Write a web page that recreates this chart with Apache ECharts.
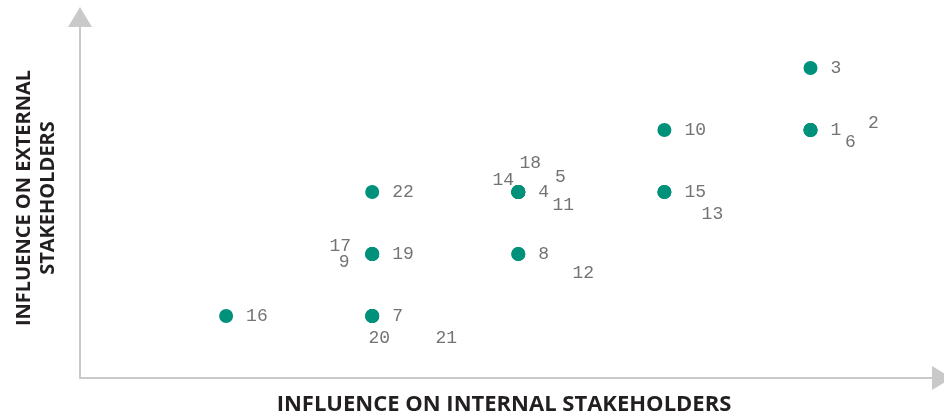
<!DOCTYPE html>
<html>
<head>
<meta charset="utf-8">
<script src="https://cdn.jsdelivr.net/npm/echarts@6/dist/echarts.min.js"></script>
<style>html,body{margin:0;padding:0;background:#fff;}#c{width:944px;height:417px;}</style>
</head>
<body>
<div id="c"></div>
<script>
// Data
const ids = ['1','2','3','4','5','6','7','8','9','10','11','12','13','14','15','16','17','18','19','20','21','22'];
const internalInfluence = [5,5,5,3,3,5,2,3,2,4,3,3,4,3,4,1,2,3,2,2,2,2];
const externalInfluence = [4,4,5,3,3,4,1,2,2,4,3,2,3,3,3,1,2,3,2,1,1,3];
const xTitle = 'INFLUENCE ON INTERNAL STAKEHOLDERS';
const yTitle = ['INFLUENCE ON EXTERNAL', 'STAKEHOLDERS'];

// Label placement (style only): offsets of label centre from point centre
const labelOffsets = {
  '2': [63, -7], '6': [40, 12], '5': [42, -15], '11': [45, 13], '14': [-15, -12],
  '18': [12, -29], '13': [48, 22], '9': [-28, 8], '17': [-32, -8], '20': [7, 22],
  '21': [74, 22], '12': [65, 19]
};

const labelFont = { fontFamily: 'Liberation Mono', fontSize: 18, color: '#737373' };

const data = ids.map((id, i) => {
  const off = labelOffsets[id];
  const label = off
    ? Object.assign({ show: true, position: 'inside', offset: off, formatter: id }, labelFont)
    : Object.assign({ show: true, position: 'right', distance: 13, formatter: id }, labelFont);
  return { value: [internalInfluence[i], externalInfluence[i]], name: id, label: label };
});

const chart = echarts.init(document.getElementById('c'));
const axisLine = {
  show: true,
  symbol: ['none', 'triangle'],
  symbolSize: [24, 20],
  lineStyle: { color: '#c9c9c9', width: 2 }
};
chart.setOption({
  animation: false,
  grid: { left: 80, right: 2, top: 17, bottom: 39 },
  xAxis: {
    type: 'value', min: 0, max: 5.9,
    axisLine: axisLine, axisTick: { show: false }, axisLabel: { show: false }, splitLine: { show: false }
  },
  yAxis: {
    type: 'value', min: 0, max: 5.823,
    axisLine: axisLine, axisTick: { show: false }, axisLabel: { show: false }, splitLine: { show: false }
  },
  series: [{
    type: 'scatter',
    symbolSize: 14,
    itemStyle: { color: '#00917a', opacity: 1 },
    data: data
  }],
  graphic: [
    { type: 'text', x: 504, y: 405, style: { text: xTitle, font: 'bold 22px "Open Sans"', fill: '#231f20', align: 'center', verticalAlign: 'middle' } },
    { type: 'text', x: 36, y: 198, rotation: Math.PI / 2, style: { text: yTitle.join('\n'), font: 'bold 20px "Open Sans"', fill: '#231f20', align: 'center', verticalAlign: 'middle', lineHeight: 24 } }
  ]
});
</script>
</body>
</html>
